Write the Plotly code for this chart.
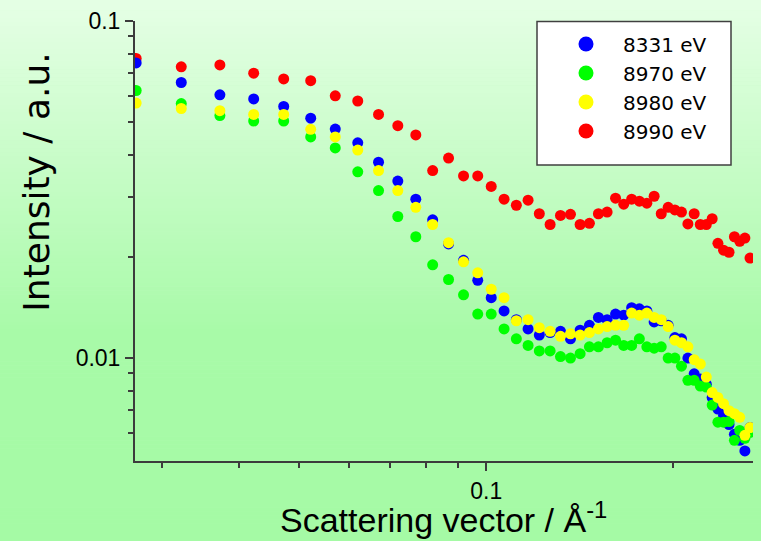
import plotly.graph_objects as go

q = [0.0273, 0.03227, 0.03724, 0.04221, 0.04718, 0.05215, 0.05712, 0.06209, 0.06706, 0.07203,
     0.077, 0.08197, 0.08694, 0.09191, 0.09688, 0.10185, 0.10682, 0.11179, 0.11676, 0.12173,
     0.1267, 0.13167, 0.13664, 0.14161, 0.14658, 0.15155, 0.15652, 0.16149, 0.16646, 0.17143,
     0.1764, 0.18137, 0.18634, 0.19131, 0.19628, 0.20125, 0.20622, 0.21119, 0.21616, 0.22113,
     0.2261, 0.23107, 0.23604, 0.24101, 0.24598, 0.25095, 0.25592, 0.26089, 0.26586]

i_8331 = [0.0751, 0.0657, 0.0604, 0.0587, 0.0558, 0.0515, 0.0478, 0.0435, 0.0381, 0.0335,
          0.0296, 0.0257, 0.0218, 0.0195, 0.0170, 0.0151, 0.0138, 0.0130, 0.0122, 0.0117,
          0.0119, 0.0120, 0.0114, 0.0121, 0.0125, 0.0132, 0.0130, 0.0135, 0.0134, 0.0141,
          0.0140, 0.0138, 0.0128, 0.0129, 0.0125, 0.0115, 0.0114, 0.0100, 0.00898, 0.00866,
          0.00836, 0.00764, 0.00706, 0.00675, 0.00635, 0.00594, 0.00570, 0.00530, 0.00622]
i_8970 = [0.0622, 0.0569, 0.0524, 0.0505, 0.0505, 0.0453, 0.0420, 0.0357, 0.0314, 0.0263,
          0.0229, 0.0189, 0.0171, 0.0154, 0.0135, 0.0135, 0.0122, 0.0114, 0.0109, 0.0105,
          0.0105, 0.0101, 0.0100, 0.0103, 0.0108, 0.0108, 0.0111, 0.0113, 0.0109, 0.0109,
          0.0114, 0.0108, 0.0107, 0.0108, 0.0100, 0.0100, 0.00946, 0.00859, 0.00859, 0.00826,
          0.00820, 0.00725, 0.00645, 0.00645, 0.00648, 0.00570, 0.00610, 0.00578, 0.00602]
i_8980 = [0.0571, 0.0550, 0.0542, 0.0528, 0.0528, 0.0477, 0.0453, 0.0414, 0.0360, 0.0314,
          0.0280, 0.0249, 0.0220, 0.0193, 0.0179, 0.0160, 0.0151, 0.0129, 0.0130, 0.0123,
          0.0120, 0.0116, 0.0118, 0.0117, 0.0119, 0.0122, 0.0124, 0.0125, 0.0125, 0.0136,
          0.0134, 0.0136, 0.0132, 0.0130, 0.0124, 0.0113, 0.0111, 0.0108, 0.00989, 0.00960,
          0.00878, 0.00790, 0.00764, 0.00732, 0.00698, 0.00684, 0.00667, 0.00590, 0.00622]
i_8990 = [0.0774, 0.0731, 0.0741, 0.0700, 0.0673, 0.0665, 0.0600, 0.0579, 0.0528, 0.0489,
          0.0459, 0.0360, 0.0392, 0.0347, 0.0347, 0.0323, 0.0296, 0.0284, 0.0294, 0.0268,
          0.0249, 0.0265, 0.0267, 0.0249, 0.0251, 0.0268, 0.0271, 0.0298, 0.0286, 0.0296,
          0.0292, 0.0288, 0.0302, 0.0268, 0.0280, 0.0275, 0.0271, 0.0250, 0.0268, 0.0249,
          0.0249, 0.0259, 0.0219, 0.0209, 0.0206, 0.0229, 0.0222, 0.0227, 0.0198]

series_names = ["8331 eV", "8970 eV", "8980 eV", "8990 eV"]
series_colors = ["#0000ff", "#00ff00", "#ffff00", "#ff0000"]
series_values = [i_8331, i_8970, i_8980, i_8990]

x_major = [0.1]
x_major_text = ["0.1"]
x_minor = [0.03, 0.04, 0.05, 0.06, 0.07, 0.08, 0.09, 0.2]
y_major = [0.01, 0.1]
y_major_text = ["0.01", "0.1"]
y_minor = [0.006, 0.007, 0.008, 0.009, 0.02, 0.03, 0.04, 0.05, 0.06, 0.07, 0.08, 0.09]

W, H = 761, 541
L, R, T, B = 135, 8, 15, 80
PW, PH = W - L - R, H - T - B

def px_to_paper_x(px):
    return (px - L) / PW

def px_to_paper_y(py):
    return (H - B - py) / PH

fig = go.Figure()

# data traces: drawing order red, blue, green, yellow
for idx in [3, 0, 1, 2]:
    fig.add_trace(go.Scatter(x=q, y=series_values[idx], mode="markers",
                             marker=dict(color=series_colors[idx], size=11, line=dict(width=0)),
                             showlegend=False, hoverinfo="skip"))
# legend entries
for idx in range(4):
    fig.add_trace(go.Scatter(x=[None], y=[None], mode="markers", name=series_names[idx],
                             marker=dict(color=series_colors[idx], size=15, line=dict(width=0)),
                             showlegend=True))

# gradient background
shapes = []
step = 4
for py in range(0, H, step):
    if py < 330:
        c = 228 - (228 - 168) * (py / 330)
    else:
        c = 168 - 3 * ((py - 330) / (H - 330))
    c = int(round(c))
    col = f"rgb({c},{min(255, 250 + int((c - 165) / 12))},{c})"
    top = py - 20 if py == 0 else py
    bot = py + step + 20 if py + step >= H else py + step + 0.5
    shapes.append(dict(type="rect", xref="paper", yref="paper", layer="below",
                       x0=px_to_paper_x(-10), x1=px_to_paper_x(W + 10),
                       y0=px_to_paper_y(bot), y1=px_to_paper_y(top),
                       fillcolor=col, line=dict(width=0)))
# legend box
shapes.append(dict(type="rect", xref="paper", yref="paper", layer="above",
                   x0=px_to_paper_x(537), x1=px_to_paper_x(731),
                   y0=px_to_paper_y(161), y1=px_to_paper_y(15.5),
                   fillcolor="white", line=dict(color="#404040", width=1.5)))

axis_common = dict(type="log", showline=True, linecolor="#3c3c3c", linewidth=2,
                   ticks="outside", tickcolor="#3c3c3c", tickwidth=1.5, ticklen=8,
                   showgrid=False, zeroline=False, mirror=False,
                   tickfont=dict(family="Liberation Sans, Arial", size=23, color="black"))

fig.update_layout(
    width=W, height=H,
    margin=dict(l=L, r=R, t=T, b=B, pad=0),
    paper_bgcolor="#c8f8c8", plot_bgcolor="rgba(0,0,0,0)",
    shapes=shapes,
    xaxis=dict(range=[-1.5657, -0.5705], tickvals=x_major, ticktext=x_major_text,
               minor=dict(tickvals=x_minor, ticks="outside", ticklen=5, tickcolor="#3c3c3c", tickwidth=1.5),
               **axis_common),
    yaxis=dict(range=[-2.3055, -1.0], tickvals=y_major, ticktext=y_major_text,
               minor=dict(tickvals=y_minor, ticks="outside", ticklen=5, tickcolor="#3c3c3c", tickwidth=1.5),
               **axis_common),
    legend=dict(x=px_to_paper_x(549), y=px_to_paper_y(18.5), xanchor="left", yanchor="top",
                bgcolor="rgba(0,0,0,0)", borderwidth=0,
                font=dict(family="DejaVu Sans", size=20, color="black"),
                itemwidth=64, tracegroupgap=0),
    annotations=[
        dict(text="Scattering vector / Å<sup>-1</sup>", xref="paper", yref="paper",
             x=px_to_paper_x(443), y=px_to_paper_y(518), xanchor="center", yanchor="middle",
             showarrow=False, font=dict(family="Liberation Sans, Arial", size=34, color="black")),
        dict(text="Intensity / a.u.", xref="paper", yref="paper", textangle=-90,
             x=px_to_paper_x(37), y=px_to_paper_y(179), xanchor="center", yanchor="middle",
             showarrow=False, font=dict(family="DejaVu Sans", size=36, color="black")),
    ],
)

fig.write_html("out.html")
